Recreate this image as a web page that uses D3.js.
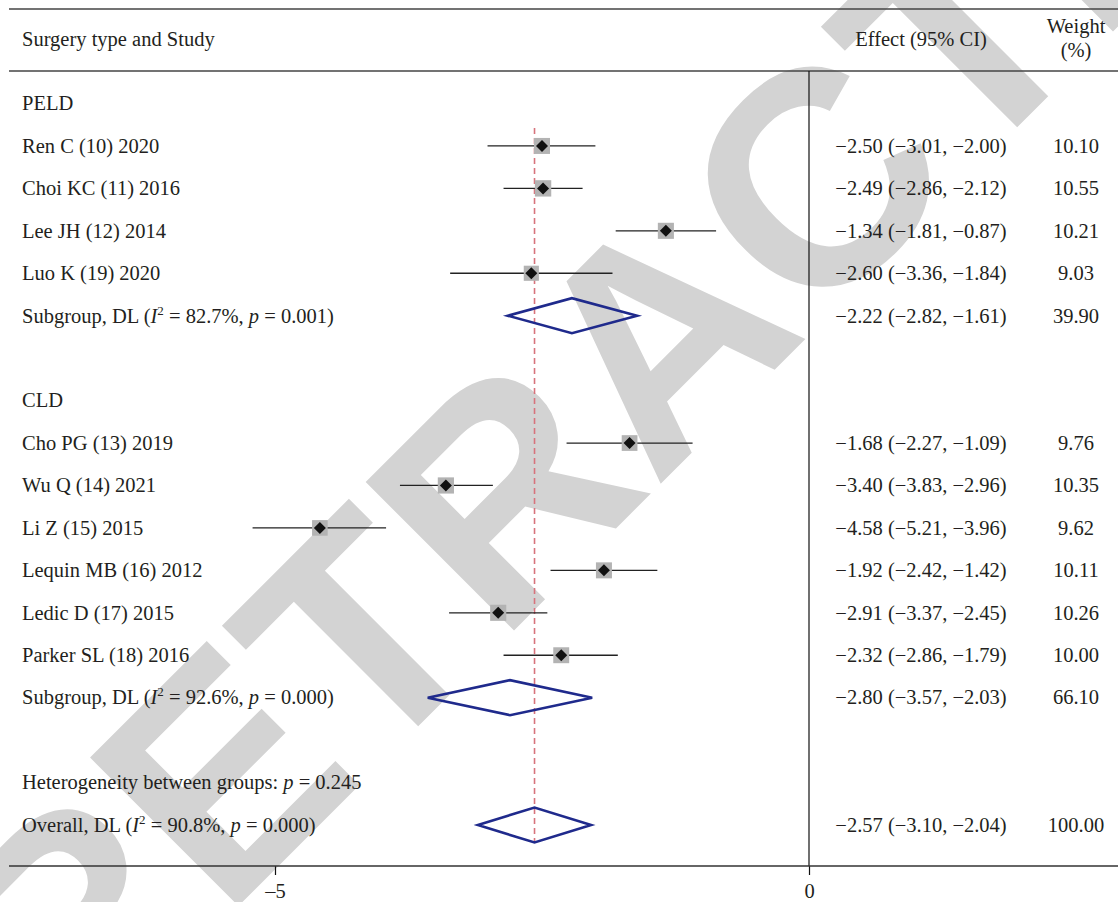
<!DOCTYPE html>
<html>
<head>
<meta charset="utf-8">
<script src="https://cdn.jsdelivr.net/npm/d3@7"></script>
<style>
	body { margin: 0; background: #fff; }
	svg { display: block; }
</style>
</head>
<body>
<script>
const width = 1118;
const height = 902;

// study rows
const groupNames = ["PELD", "CLD"];
const studyGroups = [0, 0, 0, 0, 1, 1, 1, 1, 1, 1];
const studyLabels = [
	"Ren C (10) 2020",
	"Choi KC (11) 2016",
	"Lee JH (12) 2014",
	"Luo K (19) 2020",
	"Cho PG (13) 2019",
	"Wu Q (14) 2021",
	"Li Z (15) 2015",
	"Lequin MB (16) 2012",
	"Ledic D (17) 2015",
	"Parker SL (18) 2016",
];
const studyEffects = [-2.50, -2.49, -1.34, -2.60, -1.68, -3.40, -4.58, -1.92, -2.91, -2.32];
const studyLower = [-3.01, -2.86, -1.81, -3.36, -2.27, -3.83, -5.21, -2.42, -3.37, -2.86];
const studyUpper = [-2.00, -2.12, -0.87, -1.84, -1.09, -2.96, -3.96, -1.42, -2.45, -1.79];
const studyWeights = [10.10, 10.55, 10.21, 9.03, 9.76, 10.35, 9.62, 10.11, 10.26, 10.00];

// subgroup pooled rows
const subgroupI2 = ["82.7%", "92.6%"];
const subgroupP = ["0.001", "0.000"];
const subgroupEffects = [-2.22, -2.80];
const subgroupLower = [-2.82, -3.57];
const subgroupUpper = [-1.61, -2.03];
const subgroupWeights = [39.90, 66.10];

// overall
const heterogeneityP = "0.245";
const overallI2 = "90.8%";
const overallP = "0.000";
const overallEffect = -2.57;
const overallLower = -3.10;
const overallUpper = -2.04;
const overallWeight = 100.00;

const xTicks = [-5, 0];

const textColor = "#231f20";
const boxColor = "#b3b3b3";
const diamondColor = "#1f2a8c";
const refColor = "#d7737c";
const watermarkColor = "#d3d3d3";
const serif = "'Liberation Serif', 'Times New Roman', serif";
const fontSize = "20.5px";

const fmt = (v) => d3.format(".2f")(v).replace("-", "\u2013");

// build the row list
const rows = [];
groupNames.forEach((g, gi) => {
	rows.push({ type: "group", label: g });
	studyLabels.forEach((s, i) => {
		if (studyGroups[i] !== gi) return;
		rows.push({
			type: "study",
			label: s,
			est: studyEffects[i],
			lo: studyLower[i],
			hi: studyUpper[i],
			w: studyWeights[i],
		});
	});
	rows.push({
		type: "pooled",
		label: "Subgroup, DL",
		i2: subgroupI2[gi],
		p: subgroupP[gi],
		est: subgroupEffects[gi],
		lo: subgroupLower[gi],
		hi: subgroupUpper[gi],
		w: subgroupWeights[gi],
	});
	rows.push({ type: "blank" });
});
rows.push({ type: "het", p: heterogeneityP });
rows.push({
	type: "pooled",
	label: "Overall, DL",
	i2: overallI2,
	p: overallP,
	est: overallEffect,
	lo: overallLower,
	hi: overallUpper,
	w: overallWeight,
});
rows.forEach((r, i) => (r.index = i));

const svg = d3
	.select("body")
	.append("svg")
	.attr("width", width)
	.attr("height", height)
	.attr("viewBox", `0 0 ${width} ${height}`);

const x = d3.scaleLinear().domain([-5, 0]).range([275, 809]);
const y = d3
	.scalePoint()
	.domain(rows.map((r) => r.index))
	.range([103.5, 825]);
const boxSize = d3.scaleSqrt().domain([0, 10.1]).range([0, 16]);

const lineLeft = 9;
const topLine = 9;
const headLine = 71;
const axisY = 866;
const effectCol = 921;
const weightCol = 1076;

// watermark behind everything
svg
	.append("text")
	.attr("transform", "translate(656,334) rotate(-45)")
	.attr("text-anchor", "middle")
	.attr("dy", "0.358em")
	.style("font-family", "'Liberation Sans', Arial, sans-serif")
	.style("font-weight", "bold")
	.style("font-size", "305px")
	.style("fill", watermarkColor)
	.text("RETRACTED");

// frame lines
const frame = svg.append("g").style("stroke", "#444").style("stroke-width", 1.6);
frame.append("line").attr("x1", lineLeft).attr("x2", width).attr("y1", topLine).attr("y2", topLine);
frame.append("line").attr("x1", lineLeft).attr("x2", width).attr("y1", headLine).attr("y2", headLine);

// no-effect line
svg
	.append("line")
	.attr("x1", x(0))
	.attr("x2", x(0))
	.attr("y1", headLine)
	.attr("y2", axisY)
	.style("stroke", "#111")
	.style("stroke-width", 1.2);

// axis
const axis = svg
	.append("g")
	.attr("transform", `translate(0,${axisY})`)
	.call(
		d3
			.axisBottom(x)
			.tickValues(xTicks)
			.tickSize(9)
			.tickPadding(8)
			.tickFormat((d) => String(d).replace("-", "\u2013"))
	);
axis.select(".domain").remove();
axis.selectAll(".tick line").style("stroke", "#111").style("stroke-width", 1.2);
axis
	.selectAll(".tick text")
	.style("font-family", serif)
	.style("font-size", fontSize)
	.style("fill", textColor);
svg
	.append("line")
	.attr("x1", lineLeft)
	.attr("x2", width)
	.attr("y1", axisY)
	.attr("y2", axisY)
	.style("stroke", "#333")
	.style("stroke-width", 1.6);

// header
const header = svg
	.append("g")
	.style("font-family", serif)
	.style("font-size", fontSize)
	.style("fill", textColor);
header.append("text").attr("x", 22).attr("y", 46).text("Surgery type and Study");
header.append("text").attr("x", effectCol).attr("y", 46).attr("text-anchor", "middle").text("Effect (95% CI)");
header.append("text").attr("x", weightCol).attr("y", 33).attr("text-anchor", "middle").text("Weight");
header.append("text").attr("x", weightCol).attr("y", 57).attr("text-anchor", "middle").text("(%)");

// reference line at overall estimate
const firstStudy = rows.find((r) => r.type === "study");
svg
	.append("line")
	.attr("x1", x(overallEffect))
	.attr("x2", x(overallEffect))
	.attr("y1", y(firstStudy.index) - 18)
	.attr("y2", y(rows[rows.length - 1].index) + 18)
	.style("stroke", refColor)
	.style("stroke-width", 1.6)
	.style("stroke-dasharray", "6,4");

// study markers
const studyRows = rows.filter((r) => r.type === "study");
const marks = svg.append("g");
marks
	.selectAll("line.ci")
	.data(studyRows)
	.join("line")
	.attr("class", "ci")
	.attr("x1", (d) => x(d.lo))
	.attr("x2", (d) => x(d.hi))
	.attr("y1", (d) => y(d.index))
	.attr("y2", (d) => y(d.index))
	.style("stroke", "#222")
	.style("stroke-width", 1.3);
marks
	.selectAll("rect.box")
	.data(studyRows)
	.join("rect")
	.attr("class", "box")
	.attr("x", (d) => x(d.est) - boxSize(d.w) / 2)
	.attr("y", (d) => y(d.index) - boxSize(d.w) / 2)
	.attr("width", (d) => boxSize(d.w))
	.attr("height", (d) => boxSize(d.w))
	.style("fill", boxColor);
marks
	.selectAll("path.pt")
	.data(studyRows)
	.join("path")
	.attr("class", "pt")
	.attr("d", (d) => {
		const cx = x(d.est);
		const cy = y(d.index);
		const r = 6;
		return `M${cx - r},${cy}L${cx},${cy - r}L${cx + r},${cy}L${cx},${cy + r}Z`;
	})
	.style("fill", "#111");

// pooled diamonds
const pooledRows = rows.filter((r) => r.type === "pooled");
marks
	.selectAll("path.dm")
	.data(pooledRows)
	.join("path")
	.attr("class", "dm")
	.attr("d", (d) => {
		const cy = y(d.index);
		const h = 17.5;
		return `M${x(d.lo)},${cy}L${x(d.est)},${cy - h}L${x(d.hi)},${cy}L${x(d.est)},${cy + h}Z`;
	})
	.style("fill", "none")
	.style("stroke", diamondColor)
	.style("stroke-width", 2.6)
	.style("stroke-linejoin", "miter");

// row labels
const labels = svg
	.append("g")
	.style("font-family", serif)
	.style("font-size", fontSize)
	.style("fill", textColor);

rows.forEach((r) => {
	if (r.type === "blank") return;
	const ty = y(r.index) + 6.8;
	const t = labels.append("text").attr("x", 22).attr("y", ty);
	if (r.type === "group" || r.type === "study") {
		t.text(r.label);
	} else if (r.type === "het") {
		t.append("tspan").text("Heterogeneity between groups: ");
		t.append("tspan").style("font-style", "italic").text("p");
		t.append("tspan").text(" = " + r.p);
	} else {
		t.append("tspan").text(r.label + " (");
		t.append("tspan").style("font-style", "italic").text("I");
		t.append("tspan").attr("dy", -8).style("font-size", "13px").text("2");
		t.append("tspan").attr("dy", 8).text(" = " + r.i2 + ", ");
		t.append("tspan").style("font-style", "italic").text("p");
		t.append("tspan").text(" = " + r.p + ")");
	}
	if (r.est !== undefined) {
		labels
			.append("text")
			.attr("x", effectCol)
			.attr("y", ty)
			.attr("text-anchor", "middle")
			.text(`${fmt(r.est)} (${fmt(r.lo)}, ${fmt(r.hi)})`);
		labels
			.append("text")
			.attr("x", weightCol)
			.attr("y", ty)
			.attr("text-anchor", "middle")
			.text(d3.format(".2f")(r.w));
	}
});
</script>
</body>
</html>
